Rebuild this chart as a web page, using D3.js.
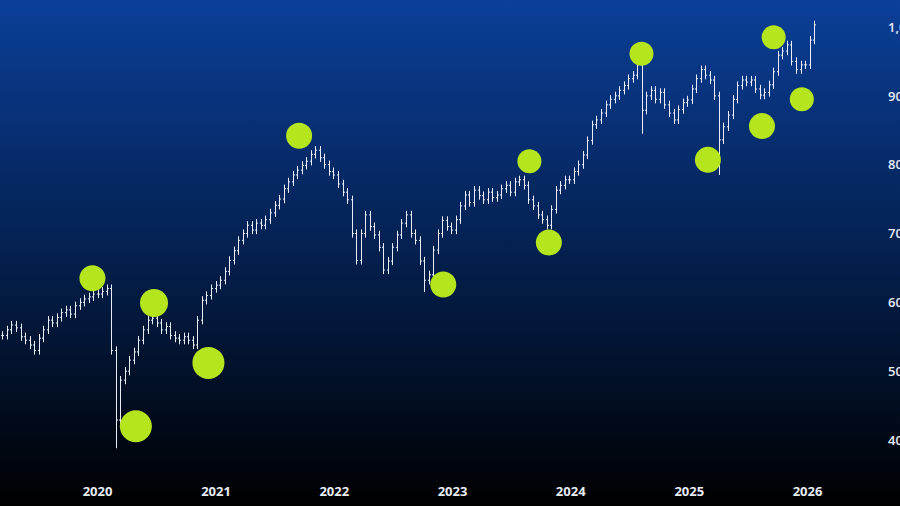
<!DOCTYPE html>
<html><head><meta charset="utf-8">
<script src="https://cdn.jsdelivr.net/npm/d3@7"></script>
<style>html,body{margin:0;padding:0;background:#000;overflow:hidden}</style>
</head><body><svg id="c" width="900" height="506"></svg>
<script>
const startDate = "2019-03-15";
const closes = [
552,560,567,563,550,545,538,530,548,560,574,570,578,585,589,583,595,600,605,608,612,
612,616,620,530,429,487,500,516,528,545,560,574,577,570,560,565,552,548,545,550,545,538,574,603,610,620,
625,632,645,661,675,690,700,712,705,715,712,720,730,741,750,765,775,785,792,799,805,815,821,810,800,790,
785,772,760,749,700,661,700,727,710,698,680,647,660,680,698,715,727,700,690,660,632,640,676,700,719,710,
705,720,740,756,745,763,755,749,760,752,756,765,770,760,775,778,770,749,740,727,720,712,735,763,770,778,
778,790,800,814,835,858,865,875,887,895,900,908,915,925,930,945,879,900,908,895,905,887,875,865,880,890,
894,910,925,938,930,923,900,836,855,872,895,915,923,920,923,910,901,905,916,935,959,965,974,950,938,945,
945,981,1003];
const wickIdx = [25, 93, 141, 158];
const wickLow = [388, 615, 845, 785];
const yTicks = [400,500,600,700,800,900,1000];
const xTicks = ["2020","2021","2022","2023","2024","2025","2026"];
const markDates = ["2019-12-18","2020-04-30","2020-06-25","2020-12-10","2021-09-16","2022-12-05","2023-08-28","2023-10-27","2024-08-08","2025-03-01","2025-08-15","2025-09-20","2025-12-16"];
const markValues = [635,420,599,512,842,626,805,687,961,807,856,985,895];
const markSizes = [13,16,14,16,13,13,12,13,12,13,13,12,12];

const svg = d3.select("#c");
const defs = svg.append("defs");
const g = defs.append("linearGradient").attr("id","bg").attr("x1",0).attr("y1",0).attr("x2",0).attr("y2",1);
g.append("stop").attr("offset","0%").attr("stop-color","#0b3f98");
g.append("stop").attr("offset","50%").attr("stop-color","#04204f");
g.append("stop").attr("offset","100%").attr("stop-color","#000000");
svg.append("rect").attr("width",900).attr("height",506).attr("fill","url(#bg)");

const x = d3.scaleTime().domain([new Date("2020-01-01"), new Date("2026-01-01")]).range([97,807]);
const y = d3.scaleLinear().domain([400,1000]).range([440,27]);

const t0 = new Date(startDate);
const bars = closes.map((c,i)=>{
  const o = i>0 ? closes[i-1] : c;
  let hi = Math.max(o,c)+6, lo = Math.min(o,c)-6;
  const k = wickIdx.indexOf(i);
  if(k>=0) lo = Math.min(lo, wickLow[k]);
  return {d:d3.timeDay.offset(t0, i*14), o, c, hi, lo};
});
const bw = 1.5;
const bg = svg.append("g").attr("stroke","#e8ecf4").attr("stroke-width",1);
bars.forEach(b=>{
  const cx = Math.round(x(b.d))+0.5;
  bg.append("line").attr("x1",cx).attr("x2",cx).attr("y1",y(b.hi)).attr("y2",y(b.lo));
  bg.append("line").attr("x1",cx-bw).attr("x2",cx).attr("y1",y(b.o)).attr("y2",y(b.o));
  bg.append("line").attr("x1",cx).attr("x2",cx+bw).attr("y1",y(b.c)).attr("y2",y(b.c));
});

svg.append("g").selectAll("circle").data(markDates).join("circle")
  .attr("cx",(d)=>x(new Date(d))).attr("cy",(d,i)=>y(markValues[i])).attr("r",(d,i)=>markSizes[i])
  .attr("fill","#b5e61d");

const ya = d3.axisRight(y).tickValues(yTicks).tickFormat(d3.format(",")).tickSize(0);
svg.append("g").attr("transform","translate(888,0)").call(ya)
  .call(s=>s.select(".domain").remove())
  .selectAll("text").attr("x",0).attr("fill","#e8ecf4").attr("font-family","Open Sans").attr("font-weight","600").attr("font-size",13);

const xa = d3.axisBottom(x).tickValues(xTicks.map(t=>new Date(t+"-01-01"))).tickFormat((d,i)=>xTicks[i]).tickSize(0);
svg.append("g").attr("transform","translate(0,484)").call(xa)
  .call(s=>s.select(".domain").remove())
  .selectAll("text").attr("fill","#e8ecf4").attr("font-family","Open Sans").attr("font-weight","700").attr("font-size",13);
</script></body></html>
